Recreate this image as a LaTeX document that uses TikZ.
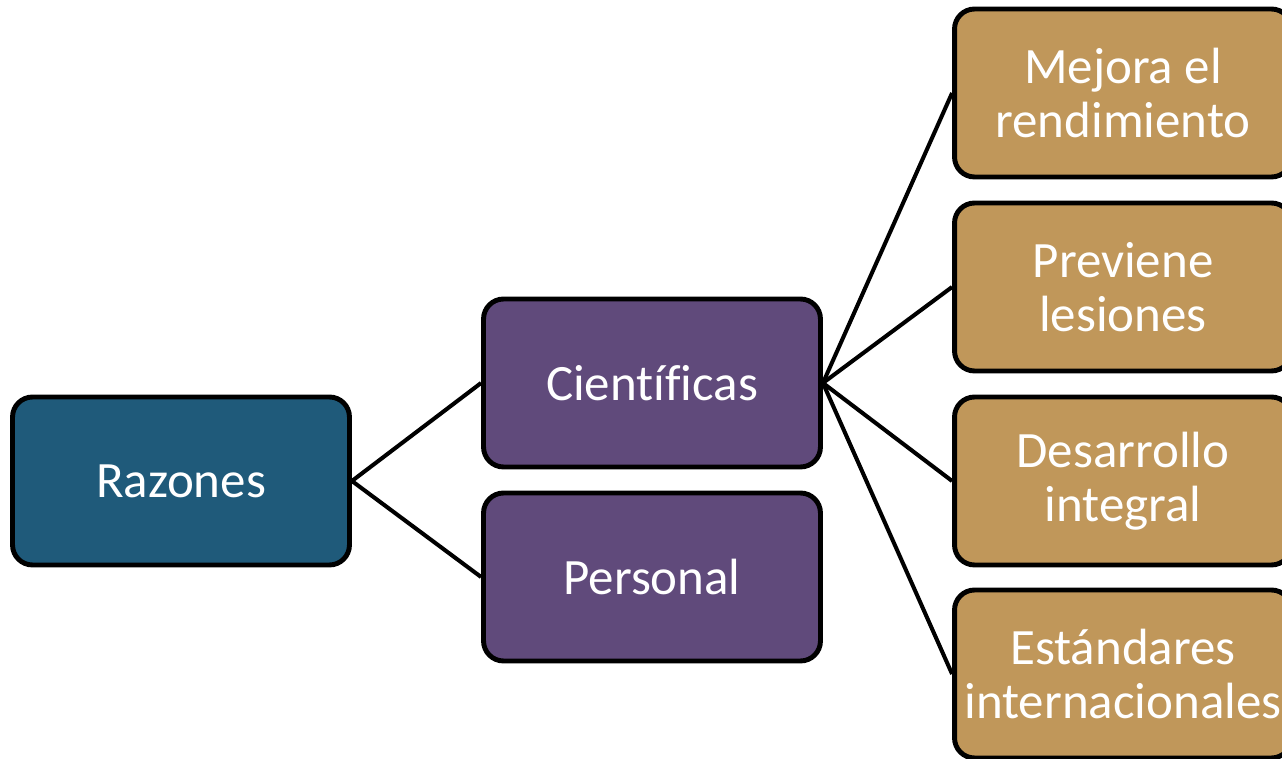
\documentclass[tikz,border=0pt]{standalone}
\usepackage{fontspec}
\setmainfont{Carlito}[Ligatures=NoCommon]
\definecolor{razblue}{HTML}{1F5A7A}
\definecolor{cienpurple}{HTML}{604A7B}
\definecolor{leaftan}{HTML}{C0975A}
\tikzset{
  box/.style={draw=black, line width=2.8pt, rounded corners=0.4cm,
    minimum width=6.74cm, minimum height=3.36cm, text=white,
    align=center, font=\fontsize{29}{31}\selectfont},
  rootbox/.style={box, fill=razblue},
  midbox/.style={box, fill=cienpurple},
  leafbox/.style={box, fill=leaftan},
  link/.style={line width=2.3pt}
}
\begin{document}
\begin{tikzpicture}[x=0.02cm,y=-0.02cm]
  \useasboundingbox (0,0) rectangle (1282,759);
  \node (razones) [rootbox] at (181,481) {Razones};
  \node (cientificas) [midbox] at (652,383) {Científicas};
  \node (personal) [midbox] at (652,577) {Personal};
  \node (mejora) [leafbox] at (1123,93) {Mejora el\\rendimiento};
  \node (previene) [leafbox] at (1123,287) {Previene\\lesiones};
  \node (desarrollo) [leafbox] at (1123,481) {Desarrollo\\integral};
  \node (estandares) [leafbox] at (1123,674) {Estándares\\internacionales};
  \draw [link] (razones.east) -- (cientificas.west);
  \draw [link] (razones.east) -- (personal.west);
  \draw [link] (cientificas.east) -- (mejora.west);
  \draw [link] (cientificas.east) -- (previene.west);
  \draw [link] (cientificas.east) -- (desarrollo.west);
  \draw [link] (cientificas.east) -- (estandares.west);
\end{tikzpicture}
\end{document}
